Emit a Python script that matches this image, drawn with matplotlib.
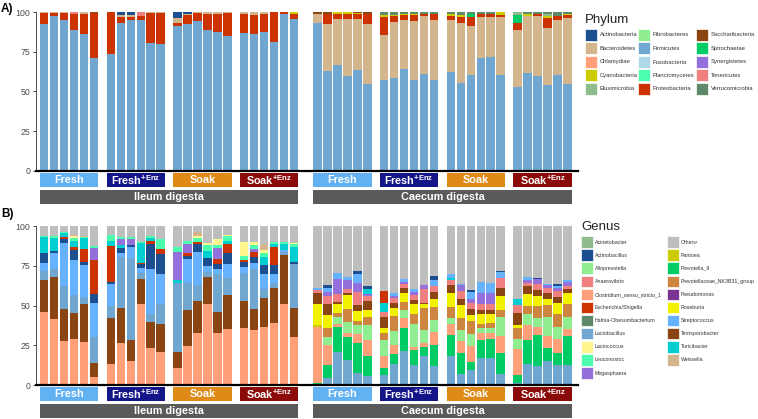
import matplotlib
matplotlib.use('Agg')
import matplotlib.pyplot as plt
from matplotlib.patches import Rectangle
import matplotlib.transforms as mtransforms

plt.rcParams['font.family'] = ['Liberation Sans', 'DejaVu Sans']
plt.rcParams['mathtext.fontset'] = 'custom'
plt.rcParams['mathtext.bf'] = 'Liberation Sans:bold'
plt.rcParams['mathtext.rm'] = 'Liberation Sans'

# ---------------- categories ----------------
sites = ['Ileum digesta', 'Caecum digesta']
treatments = ['Fresh', 'Fresh+Enz', 'Soak', 'Soak+Enz']
treatment_labels = ['Fresh', r'Fresh$^{\mathbf{+Enz}}$', 'Soak', r'Soak$^{\mathbf{+Enz}}$']
treatment_colors = ['#62B1F3', '#15158A', '#DF8A16', '#8B0B0B']
site_color = '#5A5A5A'
n_rep = 6
y_ticks = [0, 25, 50, 75, 100]

# ---------------- Phylum data (48 samples: ileum F, F+E, S, S+E, caecum F, F+E, S, S+E) -----
firmicutes = [92.2, 97.3, 94.8, 88.9, 86.0, 70.9,
              73.8, 93.1, 95.2, 94.8, 80.5, 79.7,
              91.0, 92.7, 94.3, 88.9, 87.2, 84.7,
              86.8, 86.4, 87.2, 80.9, 98.5, 95.8,
              93.1, 62.9, 66.9, 59.5, 63.7, 54.9,
              57.0, 58.5, 63.9, 57.0, 60.8, 57.4,
              62.3, 55.3, 60.2, 71.3, 71.7, 60.2,
              52.8, 61.6, 59.5, 54.3, 60.2, 54.9]
proteobacteria = [7.3, 2.2, 4.7, 9.6, 13.0, 28.5,
                  26.2, 3.8, 1.7, 2.5, 19.0, 19.8,
                  2.0, 5.2, 5.2, 10.1, 11.3, 14.7,
                  11.7, 11.5, 11.3, 19.1, 1.5, 2.7,
                  0.0, 6.8, 2.7, 2.7, 2.7, 5.8,
                  11.6, 3.6, 2.7, 3.6, 1.0, 3.3,
                  2.5, 3.8, 5.9, 2.0, 2.0, 1.3,
                  4.6, 0.0, 1.3, 6.3, 2.9, 1.7]
bacteroidetes = [0.5, 0.5, 0.5, 0.0, 1.0, 0.0,
                 0.0, 1.1, 1.0, 0.0, 0.5, 0.5,
                 3.4, 1.0, 0.5, 1.0, 1.5, 0.6,
                 1.5, 2.1, 1.5, 0.0, 0.0, 0.0,
                 5.4, 29.3, 28.9, 36.3, 32.1, 37.8,
                 28.3, 35.2, 31.3, 37.3, 36.7, 37.8,
                 32.5, 37.8, 30.8, 25.6, 25.2, 36.7,
                 35.7, 35.7, 38.2, 35.8, 34.6, 41.5]
actinobacteria = [0, 0, 0, 0, 0, 0,
                  0, 2.0, 2.1, 0, 0, 0,
                  3.6, 1.1, 0, 0, 0, 0,
                  0, 0, 0, 0, 0, 0,
                  0, 0, 0, 0, 0, 0,
                  0, 0, 0, 0, 0, 0,
                  0, 0, 0, 0, 0, 0,
                  0, 0, 0, 0, 0, 0]
tenericutes = [0, 0, 0, 1.5, 0, 0,
               0, 0, 0, 2.5, 0, 0,
               0, 0, 0, 0, 0, 0,
               0, 0, 0, 0, 0, 0,
               0, 0, 0, 0, 0, 0,
               0, 0, 0, 0, 0, 0,
               0, 0, 0, 0, 0, 0,
               0, 0, 0, 0, 0, 0]
cyanobacteria = [0, 0, 0, 0, 0, 0,
                 0, 0, 0, 0, 0, 0,
                 0, 0, 0, 0, 0, 0,
                 0, 0, 0, 0, 0, 1.5,
                 0, 0, 1.5, 1.5, 1.0, 0,
                 1.0, 0.8, 0.7, 0.7, 0, 0,
                 1.3, 1.3, 0, 0, 0, 1.8,
                 0, 1.3, 0, 1.3, 0, 0.9]
spirochaetae = [0] * 24 + [0, 0, 0, 0, 0, 0,
                           0, 0, 0, 0, 0, 0,
                           0, 0, 1.7, 0, 0, 0,
                           4.8, 0, 0, 0, 0, 0]
elusimicrobia = [0] * 24 + [0, 0, 0, 0, 0, 0,
                            0, 0, 0, 0, 0, 0,
                            0, 0, 0, 0, 0, 0,
                            2.1, 0, 0, 1.3, 0, 0]
verrucomicrobia = [0] * 24 + [0, 0, 0, 0, 0, 0,
                              2.1, 1.9, 1.4, 1.4, 1.5, 1.5,
                              1.4, 1.8, 1.4, 1.1, 1.1, 0,
                              0, 1.4, 1.0, 1.0, 2.3, 1.0]
saccharibacteria = [0, 0, 0, 0, 0, 0.6] + [0] * 18 + [1.5, 1.0, 0, 0, 0.5, 1.5] + [0] * 18

phylum_names = ['Actinobacteria', 'Bacteroidetes', 'Chlamydiae', 'Cyanobacteria', 'Elusimicrobia',
                'Fibrobacteres', 'Firmicutes', 'Fusobacteria', 'Planctomycetes', 'Proteobacteria',
                'Saccharibacteria', 'Spirochaetae', 'Synergistetes', 'Tenericutes', 'Verrucomicrobia']
phylum_colors = ['#1B4F8F', '#D3B68D', '#FFA07A', '#CCCC00', '#8FBC8F',
                 '#90EE90', '#6FA7D1', '#ADD8E6', '#4CFFAF', '#CC3300',
                 '#8B4513', '#00CC66', '#9370DB', '#F08080', '#5E8A69']

phylum_values = {'Firmicutes': firmicutes, 'Proteobacteria': proteobacteria,
                 'Bacteroidetes': bacteroidetes, 'Actinobacteria': actinobacteria,
                 'Tenericutes': tenericutes, 'Cyanobacteria': cyanobacteria,
                 'Spirochaetae': spirochaetae, 'Elusimicrobia': elusimicrobia,
                 'Verrucomicrobia': verrucomicrobia, 'Saccharibacteria': saccharibacteria}
phylum_order = {
    'Ileum digesta': ['Firmicutes', 'Proteobacteria', 'Bacteroidetes', 'Tenericutes',
                      'Cyanobacteria', 'Actinobacteria', 'Saccharibacteria', 'Spirochaetae',
                      'Elusimicrobia', 'Verrucomicrobia'],
    'Caecum digesta': ['Firmicutes', 'Bacteroidetes', 'Proteobacteria', 'Spirochaetae',
                       'Cyanobacteria', 'Elusimicrobia', 'Verrucomicrobia', 'Saccharibacteria',
                       'Tenericutes', 'Actinobacteria'],
}

# ---------------- Genus data ----------------
clostridium = [46, 41.5, 27.5, 28.7, 27.3, 5.2,
               13.4, 26.6, 15.1, 51.2, 23.5, 21,
               10.5, 24.5, 33, 50.7, 33, 35.4,
               35.6, 34.4, 36.5, 39.2, 51.2, 30.2,
               35.5, 12.6, 2.1, 2.7, 5.7, 9.9,
               7.7, 5.5, 6.3, 2.1, 2.7, 8.3,
               6.8, 7.4, 9.8, 4.8, 4.2, 10.5,
               16.1, 9.6, 5.1, 7.7, 8.4, 4.2]
terrisporobacter = [20, 26.2, 20.3, 16.8, 23.4, 8.8,
                    28.9, 21.6, 13.2, 15.3, 16.3, 17.6,
                    10.3, 22.5, 19.8, 17.2, 13, 21.2,
                    17.2, 13.2, 18.4, 22, 30.6, 18,
                    6.9, 6.7, 1.5, 1.5, 3.8, 5.8,
                    7.2, 3.6, 3.1, 2.5, 1.0, 4.8,
                    4.6, 3.6, 3.6, 2.1, 2.1, 5.2,
                    7.8, 4.9, 3.5, 4.2, 3.5, 2.1]
lactobacillus = [6, 5, 14.7, 11.1, 4.6, 16.2,
                 7.4, 32.3, 51.7, 4.1, 4.6, 12.1,
                 43.6, 17.4, 10.1, 3.4, 23.6, 10.9,
                 17.8, 25.6, 5.3, 3.2, 2.1, 28.1,
                 0, 4.6, 21, 15.5, 7.8, 5.7,
                 6.3, 13.4, 21.4, 12.6, 18.2, 12,
                 18.2, 7.1, 9.2, 16.8, 16.8, 7.1,
                 1, 13.4, 12, 15.1, 12.6, 12.6]
streptococcus = [5, 10.5, 27, 22, 20.2, 21.6,
                 13.6, 2.7, 7, 3.2, 28.3, 18.9,
                 0, 14.6, 21, 3.5, 3.1, 8.4,
                 3.6, 3.7, 9.8, 5.2, 1.1, 0,
                 1.3, 2.5, 4.1, 2.1, 5.2, 0,
                 0, 2.1, 1.5, 1.5, 0, 3.5,
                 2.3, 0.8, 4.8, 6.9, 6.3, 3.8,
                 0, 2.1, 0, 0.8, 1.1, 1]
actinobacillus = [6, 1.1, 2.1, 6.1, 2.1, 5.6,
                  1.5, 2.8, 1, 2.5, 15.8, 13,
                  0, 2, 4.6, 4.9, 3.2, 7.3,
                  3.4, 3.6, 5.5, 5.9, 0, 1.3,
                  0, 1.7, 0, 0, 2.1, 2.1,
                  0, 0, 0, 0, 0, 2.8,
                  0, 0, 0.8, 0, 0, 0.5,
                  0, 0, 1, 0, 1, 0]
escherichia = [0, 0, 1.4, 2.1, 7.7, 21.2,
               22.6, 0, 0, 0.7, 2.1, 2.7,
               0, 2.2, 1.5, 0, 3.1, 5.3,
               0.8, 3.1, 0, 11.3, 0, 0,
               0, 0, 0, 0, 0, 0,
               7.3, 0, 0, 0, 0, 0,
               0, 0, 0, 0, 0, 0,
               0, 0, 0, 0, 0, 0]
turicibacter = [10, 7.9, 2.5, 3.8, 6.9, 0,
                3.2, 2, 0, 12.5, 2.1, 0,
                1.4, 0, 0, 4.6, 0, 2.1,
                0, 0, 5, 2.1, 3.9, 9.2,
                0, 0, 0, 0, 0, 2.8,
                5.7, 0, 0, 0, 0, 0,
                1.5, 0, 0, 0, 0, 0,
                3.6, 0, 0, 0, 0, 0]
megasphaera = [0, 0, 0, 0, 0, 7.4,
               0, 3.6, 4, 0, 0, 0,
               18.1, 5.3, 0, 0, 7, 0,
               0, 1.7, 0, 0, 0, 0,
               0, 2.7, 9.1, 5.6, 5.7, 1.4,
               0, 1.5, 1.7, 2.1, 2.7, 0,
               0, 3.8, 2.1, 7.4, 7.4, 0,
               0, 1.4, 2.8, 1.7, 2.1, 2.7]
leuconostoc = [1, 1.8, 1, 1.9, 1.1, 1.2,
               3.6, 1.4, 1, 0.5, 1.3, 6.3,
               2.9, 2.1, 2.5, 3.7, 2, 3.1,
               2.6, 2.7, 2.7, 1.2, 1.1, 1.7] + [0] * 24
lactococcus = [0, 0, 0, 1, 0, 0,
               0, 0, 0, 0, 0, 0,
               0, 0, 1.5, 1.5, 4, 0.5,
               9, 2.1, 2, 0, 0, 0.5] + [0] * 24
weissella = [0, 0, 0, 1, 0.7, 0,
             0, 0, 0, 0, 0, 0,
             0, 0, 2, 0, 0, 0,
             0, 0, 3.7, 0, 0, 0] + [0] * 24
prevotella_9 = [0] * 24 + [1, 8, 15.5, 14.7, 18.8, 12.5,
                           4.2, 6.3, 14.6, 9.2, 5.7, 13.2,
                           13.2, 13.2, 5.5, 11.3, 11.9, 13.2,
                           5.3, 14.7, 19.4, 8, 7.7, 18.2]
alloprevotella = [0] * 24 + [0, 5, 4.2, 6.9, 5.4, 9.6,
                             9.9, 8.8, 4.7, 14.3, 7.8, 7.2,
                             3.7, 6.7, 7.4, 2.7, 2.7, 12,
                             6.3, 7.2, 5.4, 12, 7.8, 7.8]
nk3b31 = [0] * 24 + [0, 5.8, 2.7, 7.8, 2.6, 5.1,
                     4.8, 9.4, 5.4, 6.2, 13.8, 8.4,
                     7.2, 7.9, 8.4, 3, 3.6, 4.2,
                     7.3, 4.8, 7.8, 7.5, 8.4, 7.9]
pantoea = [0] * 24 + [1, 0, 0, 0, 0, 0] + [0] * 18
roseburia = [0] * 24 + [13.7, 8, 5.2, 9, 6.2, 4.2,
                        2.7, 4.8, 5.7, 6.3, 2.5, 4.8,
                        9, 8, 3.7, 6.3, 5.7, 9,
                        1.7, 7.7, 6.3, 3.6, 6.9, 7.4]
anaerovibrio = [0] * 24 + [1.4, 5.3, 5.2, 2.1, 8.4, 3.2,
                           3.3, 2.7, 2.1, 3.4, 8.5, 3.6,
                           3.1, 5.2, 4.2, 3.7, 3.7, 6.3,
                           4.8, 2.1, 4.2, 3.1, 3.8, 2.1]
others = [6, 6, 3.5, 5.5, 6, 12.8,
          5.8, 7, 7, 10, 6, 8.4,
          13.2, 9.4, 4, 10.5, 8, 5.8,
          10, 9.9, 11.1, 9.9, 10, 11,
          39.2, 37.1, 29.4, 32.1, 28.3, 37.7,
          40.9, 41.9, 33.5, 39.8, 37.1, 31.4,
          30.4, 36.3, 40.5, 35, 35.6, 28.2,
          46.1, 32.1, 32.5, 36.3, 36.7, 34]

genus_names = ['Acinetobacter', 'Actinobacillus', 'Alloprevotella', 'Anaerovibrio',
               'Clostridium_sensu_stricto_1', 'Escherichia/Shigella', 'Hafnia-Obesumbacterium',
               'Lactobacillus', 'Lactococcus', 'Leuconostoc', 'Megasphaera',
               'Others\u00b9', 'Pantoea', 'Prevotella_9', 'Prevotellaceae_NK3B31_group',
               'Pseudomonas', 'Roseburia', 'Streptococcus', 'Terrisporobacter',
               'Turicibacter', 'Weissella']
genus_colors = ['#8FBC8F', '#1B4F8F', '#90EE90', '#F08080',
                '#FFA07A', '#CC3300', '#5E8A69',
                '#6FA7D1', '#FFF68F', '#4CFFAF', '#9370DB',
                '#BEBEBE', '#CCCC00', '#00CC66', '#CD853F',
                '#7D3394', '#F2F200', '#66B2FF', '#8B4513',
                '#00CED1', '#D3B68D']

genus_values = {'Clostridium_sensu_stricto_1': clostridium, 'Terrisporobacter': terrisporobacter,
                'Lactobacillus': lactobacillus, 'Streptococcus': streptococcus,
                'Actinobacillus': actinobacillus, 'Escherichia/Shigella': escherichia,
                'Turicibacter': turicibacter, 'Megasphaera': megasphaera,
                'Leuconostoc': leuconostoc, 'Lactococcus': lactococcus, 'Weissella': weissella,
                'Prevotella_9': prevotella_9, 'Alloprevotella': alloprevotella,
                'Prevotellaceae_NK3B31_group': nk3b31, 'Pantoea': pantoea,
                'Roseburia': roseburia, 'Anaerovibrio': anaerovibrio, 'Others\u00b9': others}
genus_order = {
    'Ileum digesta': ['Clostridium_sensu_stricto_1', 'Terrisporobacter', 'Lactobacillus',
                      'Streptococcus', 'Actinobacillus', 'Escherichia/Shigella', 'Turicibacter',
                      'Megasphaera', 'Leuconostoc', 'Lactococcus', 'Weissella',
                      'Prevotella_9', 'Alloprevotella', 'Prevotellaceae_NK3B31_group',
                      'Pantoea', 'Roseburia', 'Anaerovibrio', 'Others\u00b9'],
    'Caecum digesta': ['Lactobacillus', 'Prevotella_9', 'Clostridium_sensu_stricto_1',
                       'Alloprevotella', 'Prevotellaceae_NK3B31_group', 'Pantoea', 'Roseburia',
                       'Terrisporobacter', 'Anaerovibrio', 'Megasphaera', 'Turicibacter',
                       'Escherichia/Shigella', 'Streptococcus', 'Actinobacillus',
                       'Leuconostoc', 'Lactococcus', 'Weissella', 'Others\u00b9'],
}

# ---------------- layout ----------------
W, H = 758, 419
fig = plt.figure(figsize=(W / 100, H / 100), dpi=100)


def fx(px):
    return px / W


def fy(py):
    return 1 - py / H


GROUP_STEP = 6.7
SITE_GAP = 0.67
BAR_W = 0.85
LABEL_FONT = ['Liberation Sans Narrow', 'Liberation Sans', 'DejaVu Sans']

positions = []
for s in range(len(sites)):
    for t in range(len(treatments)):
        g = s * len(treatments) + t
        for i in range(n_rep):
            positions.append(g * GROUP_STEP + s * SITE_GAP + i)


def draw_panel(ax, values, order, colors_by_name):
    for s, site in enumerate(sites):
        idx = list(range(s * 24, (s + 1) * 24))
        xs = [positions[k] for k in idx]
        bottom = [0.0] * 24
        for name in order[site]:
            if name not in values:
                continue
            v = [values[name][k] for k in idx]
            ax.bar(xs, v, bottom=bottom, width=BAR_W, color=colors_by_name[name],
                   linewidth=0, zorder=2)
            bottom = [b + vv for b, vv in zip(bottom, v)]
    ax.set_xlim(-0.425 - 4 / 9.95, -0.425 + 538 / 9.95)
    ax.set_ylim(0, 100)
    ax.set_yticks(y_ticks)
    ax.set_yticklabels([str(t) for t in y_ticks], fontsize=6.3, color='#4D4D4D')
    ax.tick_params(axis='y', length=2.5, width=0.6, color='#333333', pad=1.5)
    ax.set_xticks([])
    for sp in ['top', 'right']:
        ax.spines[sp].set_visible(False)
    ax.spines['left'].set_linewidth(0.6)
    ax.spines['left'].set_color('#333333')
    ax.spines['bottom'].set_linewidth(1.6)
    ax.spines['bottom'].set_color('black')

    trans = mtransforms.blended_transform_factory(ax.transData, ax.transAxes)
    for s, site in enumerate(sites):
        for t, tr in enumerate(treatments):
            g = s * len(treatments) + t
            first = positions[g * n_rep]
            last = positions[g * n_rep + n_rep - 1]
            x0 = first - BAR_W / 2
            x1 = last + BAR_W / 2
            ax.add_patch(Rectangle((x0, -0.102), x1 - x0, 0.087, transform=trans,
                                   facecolor=treatment_colors[t], edgecolor='none',
                                   clip_on=False))
            ax.text((x0 + x1) / 2, -0.059, treatment_labels[t], transform=trans,
                    ha='center', va='center', color='white', fontsize=7.8,
                    fontweight='bold', family=LABEL_FONT)
        x0 = positions[s * 24] - BAR_W / 2
        x1 = positions[s * 24 + 23] + BAR_W / 2
        ax.add_patch(Rectangle((x0, -0.205), x1 - x0, 0.085, transform=trans,
                               facecolor=site_color, edgecolor='none', clip_on=False))
        ax.text((x0 + x1) / 2, -0.163, site, transform=trans, ha='center', va='center',
                color='white', fontsize=7.8, fontweight='bold', family=LABEL_FONT)


axA = fig.add_axes([fx(36), fy(171), fx(578) - fx(36), fy(12) - fy(171)])
axB = fig.add_axes([fx(36), fy(385), fx(578) - fx(36), fy(226) - fy(385)])

draw_panel(axA, phylum_values, phylum_order, dict(zip(phylum_names, phylum_colors)))
draw_panel(axB, genus_values, genus_order, dict(zip(genus_names, genus_colors)))

fig.text(fx(1), fy(9), 'A)', fontsize=8.5, fontweight='bold', va='center', ha='left')
fig.text(fx(1), fy(214), 'B)', fontsize=8.5, fontweight='bold', va='center', ha='left')


def draw_legend(title, names, colors, title_xy, col_x, row_y0, row_dy, rows, sw=12, fs=4.2):
    fig.text(fx(title_xy[0]), fy(title_xy[1]), title, fontsize=9.5, va='center', ha='left',
             color='#222222')
    for k, (nm, col) in enumerate(zip(names, colors)):
        c = k // rows
        r = k % rows
        x = col_x[c]
        yc = row_y0 + r * row_dy
        fig.patches.append(Rectangle((fx(x), fy(yc + sw / 2)), fx(sw), fy(0) - fy(sw),
                                     transform=fig.transFigure, facecolor=col,
                                     edgecolor='white', linewidth=0.5))
        fig.text(fx(x + sw + 2.5), fy(yc), nm, fontsize=fs, va='center', ha='left',
                 color='#333333')


draw_legend('Phylum', phylum_names, phylum_colors, (585, 20), [585, 638, 696], 35, 13.5, 5)
draw_legend('Genus', genus_names, genus_colors, (581, 227), [581, 667], 242, 13.1, 11,
            sw=11.5, fs=3.75)

fig.savefig('out.png', dpi=100)
